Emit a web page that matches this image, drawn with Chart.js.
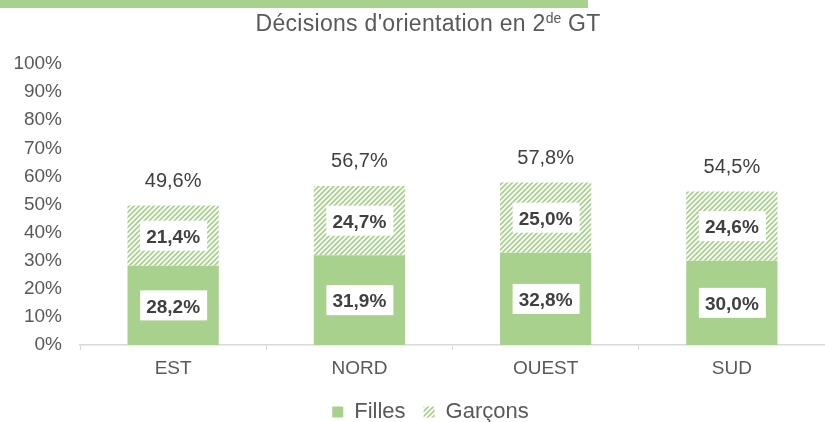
<!DOCTYPE html>
<html>
<head>
<meta charset="utf-8">
<script src="https://cdn.jsdelivr.net/npm/chart.js@4"></script>
<style>
  html, body { margin: 0; padding: 0; background: #fff; overflow: hidden; }
  #wrap { position: relative; width: 825px; height: 422px; }
  #topbar { position: absolute; left: 0; top: 0; width: 588px; height: 8px; background: #a9d18e; }
  #title {
    position: absolute; left: 0; top: 10px; width: 856px; text-align: center;
    font-family: "Liberation Sans", Arial, sans-serif; font-size: 23px; letter-spacing: 0.3px; color: #595959;
  }
  #title sup { font-size: 14px; vertical-align: 8px; line-height: 0; letter-spacing: 0; }
  canvas { position: absolute; left: 0; top: 0; }
</style>
</head>
<body>
<div id="wrap">
  <canvas id="chart" width="825" height="422"></canvas>
  <div id="topbar"></div>
  <div id="title">Décisions d'orientation en 2<sup>de</sup> GT</div>
</div>
<script>
const categories = ["EST", "NORD", "OUEST", "SUD"];
const filles = [28.2, 31.9, 32.8, 30.0];
const garcons = [21.4, 24.7, 25.0, 24.6];
const totals = [49.6, 56.7, 57.8, 54.5];

const green = "#a9d18e";
const font = "'Liberation Sans', Arial, sans-serif";
const fmt = v => v.toFixed(1).replace(".", ",") + "%";

// hachures pour les garcons
function makeHatch() {
  const s = 5;
  const c = document.createElement("canvas");
  c.width = s; c.height = s;
  const g = c.getContext("2d");
  g.fillStyle = "#ffffff";
  g.fillRect(0, 0, s, s);
  g.strokeStyle = green;
  g.lineWidth = 1.8;
  g.beginPath();
  g.moveTo(0, s); g.lineTo(s, 0);
  g.moveTo(-1, 1); g.lineTo(1, -1);
  g.moveTo(s - 1, s + 1); g.lineTo(s + 1, s - 1);
  g.stroke();
  return g.createPattern(c, "repeat");
}
const hatch = makeHatch();

// etiquettes dans les barres + totaux
const labelPlugin = {
  id: "labels",
  beforeLayout(chart) {
    // legende un peu plus basse
    const lg = chart.legend;
    if (lg && !lg._patched) {
      const fit = lg.fit;
      lg.fit = function () { fit.call(this); this.height -= 11; };
      lg._patched = true;
    }
  },
  afterLayout(chart) {
    // legende decalee a droite comme l'original
    const lg = chart.legend;
    lg.left += 18;
    lg.right += 18;
  },
  afterDatasetsDraw(chart) {
    const ctx = chart.ctx;
    ctx.save();
    ctx.textAlign = "center";
    ctx.textBaseline = "middle";
    chart.data.datasets.forEach((ds, di) => {
      const meta = chart.getDatasetMeta(di);
      meta.data.forEach((bar, i) => {
        const yc = (bar.y + bar.base) / 2;
        ctx.fillStyle = "#ffffff";
        ctx.fillRect(bar.x - 33, yc - 15, 67, 30);
        ctx.fillStyle = "#404040";
        ctx.font = "bold 19px " + font;
        ctx.fillText(fmt(ds.data[i]), bar.x, yc + 2);
      });
    });
    const top = chart.getDatasetMeta(1);
    ctx.font = "20px " + font;
    ctx.fillStyle = "#404040";
    top.data.forEach((bar, i) => {
      ctx.fillText(fmt(totals[i]), bar.x, bar.y - 24);
    });
    ctx.restore();
  }
};

new Chart(document.getElementById("chart"), {
  type: "bar",
  data: {
    labels: categories,
    datasets: [
      { label: "Filles", data: filles, backgroundColor: green, borderWidth: 0 },
      { label: "Garçons", data: garcons, backgroundColor: hatch, borderWidth: 0 }
    ]
  },
  options: {
    responsive: false,
    animation: false,
    events: [],
    layout: { padding: { top: 64, right: 0, left: 0, bottom: 0 } },
    datasets: { bar: { barPercentage: 0.49, categoryPercentage: 1 } },
    scales: {
      x: {
        stacked: true,
        afterFit: s => { s.height = 38; },
        grid: { display: true, drawOnChartArea: false, drawTicks: true, tickLength: 5, color: "#d9d9d9" },
        border: { display: true, color: "#d9d9d9", width: 1.5 },
        ticks: { color: "#595959", padding: 7, font: { family: font, size: 19 } }
      },
      y: {
        stacked: true,
        min: 0, max: 100,
        afterFit: s => { s.width = 80; },
        grid: { display: false, drawTicks: false },
        border: { display: false },
        ticks: {
          stepSize: 10, padding: 18, color: "#595959",
          font: { family: font, size: 19 },
          callback: v => v + "%"
        }
      }
    },
    plugins: {
      legend: {
        position: "bottom",
        labels: {
          boxWidth: 11, boxHeight: 11, padding: 18,
          color: "#595959",
          font: { family: font, size: 22 }
        }
      },
      tooltip: { enabled: false },
      title: { display: false }
    }
  },
  plugins: [labelPlugin]
});
</script>
</body>
</html>
